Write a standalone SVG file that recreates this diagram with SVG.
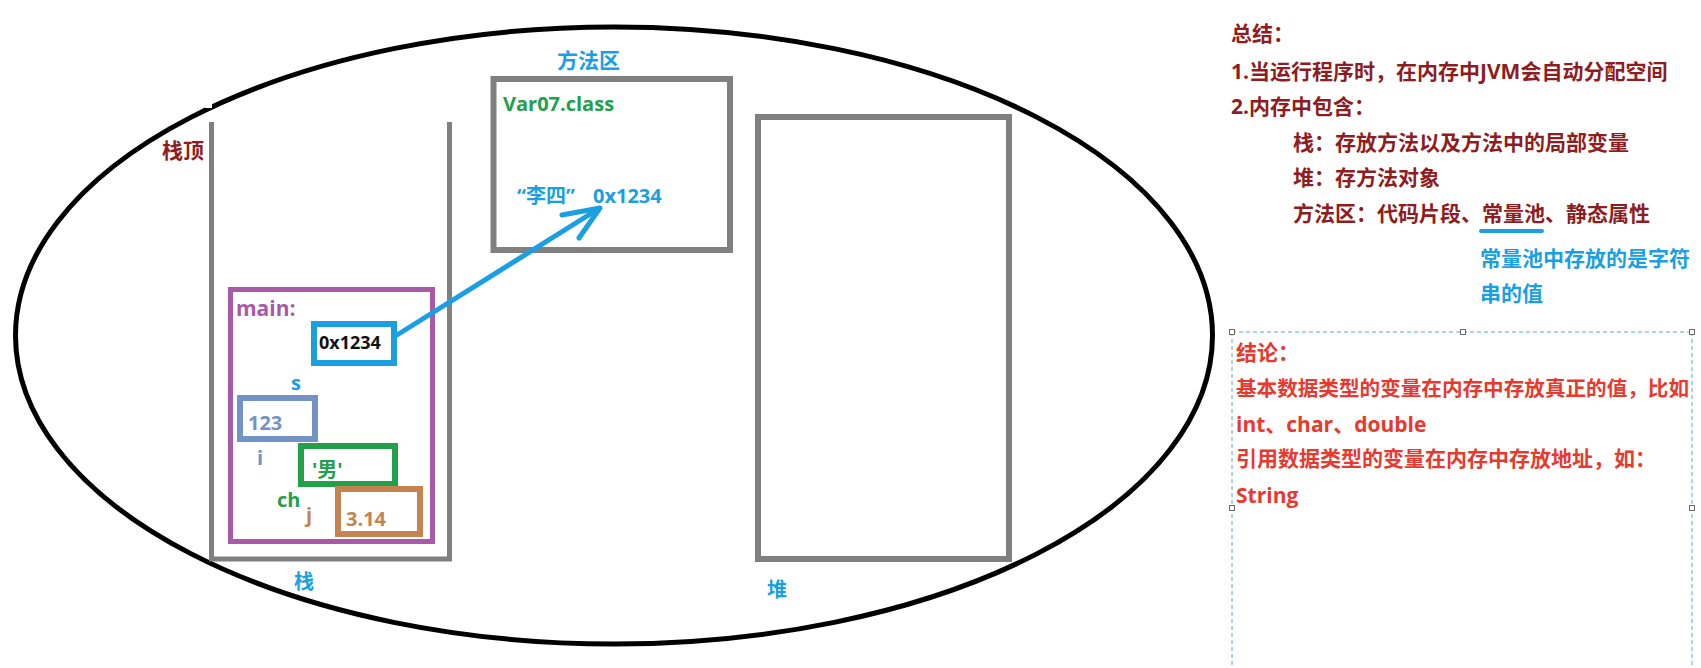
<svg xmlns="http://www.w3.org/2000/svg" width="1701" height="668" viewBox="0 0 1701 668">
<style>
text { font-family: 'Open Sans', 'Noto Sans CJK SC', sans-serif; font-weight: bold; }
.t20 { font-size: 20px; }
.t21 { font-size: 21px; }
.wall { fill: none; stroke: #808080; stroke-width: 6; }
.box { fill: none; stroke-width: 6; }
.dred { fill: #8e1d22; }
.red { fill: #e8392f; }
.blue { fill: #1a9fe3; }
.handle { fill: #ffffff; stroke: #6b6b6b; stroke-width: 1; }
</style>
<rect width="1701" height="668" fill="#ffffff"/>

<g id="memory-ellipse">
  <ellipse cx="614" cy="335.5" rx="598.5" ry="308.5" fill="none" stroke="#000000" stroke-width="5"/>
  <rect x="205" y="103" width="7" height="5" fill="#ffffff"/>
</g>

<g id="stack">
  <path d="M211.5,122 V559 H449.5 V122" fill="none" stroke="#808080" stroke-width="5"/>
  <text class="t21 dred" x="162" y="158">栈顶</text>
  <text class="t20 blue" x="294" y="589">栈</text>
</g>

<g id="main-frame">
  <rect x="230.5" y="289.5" width="202" height="252" fill="none" stroke="#a85aa8" stroke-width="5"/>
  <text class="t21" x="236" y="316" fill="#a85aa8">main:</text>
</g>

<g id="var-s">
  <rect class="box" x="314" y="324" width="80" height="39" stroke="#1a9fe3"/>
  <text x="319" y="349" font-size="18" fill="#111111">0x1234</text>
  <text class="t20 blue" x="291" y="390">s</text>
</g>

<g id="var-i">
  <rect class="box" x="240" y="398" width="75" height="41" stroke="#7393c4"/>
  <text class="t20" x="248" y="430" fill="#7393c4">123</text>
  <text class="t20" x="257" y="465" fill="#7393c4">i</text>
</g>

<g id="var-ch">
  <rect class="box" x="301" y="446" width="94" height="38" stroke="#22a04a"/>
  <text class="t20" x="312" y="477" fill="#22a04a">'男'</text>
  <text class="t20" x="277" y="507" fill="#22a04a">ch</text>
</g>

<g id="var-j">
  <rect class="box" x="338" y="489" width="82" height="45" stroke="#c5834f"/>
  <text class="t20" x="346" y="526" fill="#c5834f">3.14</text>
  <text class="t20" x="306" y="522" fill="#c5834f">j</text>
</g>

<g id="method-area">
  <rect class="wall" x="493.5" y="79" width="236.5" height="171"/>
  <text class="t21 blue" x="557" y="68">方法区</text>
  <text class="t20" x="503" y="111" fill="#23a04c">Var07.class</text>
  <text class="t20 blue" x="517" y="203">“李四”<tspan x="593">0x1234</tspan></text>
</g>

<g id="heap">
  <rect class="wall" x="758" y="117" width="251" height="442"/>
  <text class="t20 blue" x="767" y="597">堆</text>
</g>

<g id="connectors">
  <line x1="397" y1="335" x2="599" y2="208.5" stroke="#1a9fe3" stroke-width="5" stroke-linecap="round"/>
  <polyline points="562,215 600,208 579,238" fill="none" stroke="#1a9fe3" stroke-width="5" stroke-linecap="round" stroke-linejoin="round"/>
</g>

<g id="summary">
  <text class="t21 dred" x="1231" y="41">总结：</text>
  <text class="t21 dred" x="1231" y="79">1.当运行程序时，在内存中JVM会自动分配空间</text>
  <text class="t21 dred" x="1231" y="114">2.内存中包含：</text>
  <text class="t21 dred" x="1293" y="150">栈：存放方法以及方法中的局部变量</text>
  <text class="t21 dred" x="1293" y="185">堆：存方法对象</text>
  <text class="t21 dred" x="1293" y="221">方法区：代码片段、常量池、静态属性</text>
  <line x1="1481" y1="231" x2="1542" y2="231" stroke="#1a9fe3" stroke-width="4" stroke-linecap="round"/>
  <text class="t21 blue" x="1480" y="266">常量池中存放的是字符</text>
  <text class="t21 blue" x="1480" y="301">串的值</text>
</g>

<g id="conclusion">
  <path d="M1232,332 H1692 M1232,332 V668 M1692,332 V668" fill="none" stroke="#5aa5d8" stroke-width="1" stroke-dasharray="4 3"/>
  <rect class="handle" x="1229.5" y="329.5" width="5" height="5"/>
  <rect class="handle" x="1460.5" y="329.5" width="5" height="5"/>
  <rect class="handle" x="1689.5" y="329.5" width="5" height="5"/>
  <rect class="handle" x="1229.5" y="505.5" width="5" height="5"/>
  <rect class="handle" x="1689.5" y="505.5" width="5" height="5"/>
  <text class="t21 red" x="1236" y="360">结论：</text>
  <text class="red" font-size="20.6" x="1236" y="396">基本数据类型的变量在内存中存放真正的值，比如</text>
  <text class="t21 red" x="1236" y="432">int、char、double</text>
  <text class="t21 red" x="1236" y="466">引用数据类型的变量在内存中存放地址，如：</text>
  <text class="t21 red" x="1236" y="503">String</text>
</g>
</svg>
